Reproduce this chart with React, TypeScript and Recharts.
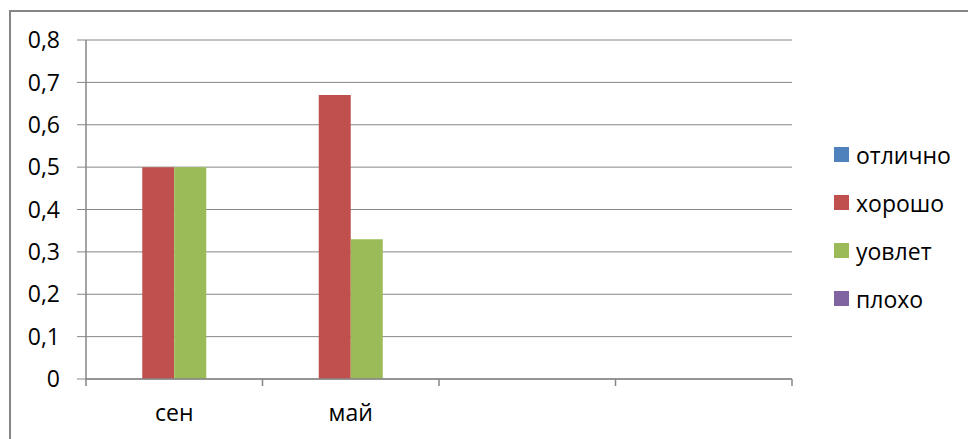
import React from "react";
import {
  BarChart,
  Bar,
  XAxis,
  YAxis,
  CartesianGrid,
  Legend,
} from "recharts";

const categories = ["сен", "май", "", ""];
const seriesNames = ["отлично", "хорошо", "уовлет", "плохо"];
const seriesColors = ["#4F81BD", "#C0504D", "#9BBB59", "#8064A2"];
const otlichno = [0, 0, null, null];
const horosho = [0.5, 0.67, null, null];
const uovlet = [0.5, 0.33, null, null];
const ploho = [0, 0, null, null];
const yTicks = [0, 0.1, 0.2, 0.3, 0.4, 0.5, 0.6, 0.7, 0.8];

const seriesValues = [otlichno, horosho, uovlet, ploho];

const data = categories.map((cat, i) => {
  const row: Record<string, string | number | null> = { cat };
  seriesNames.forEach((name, s) => {
    row[name] = seriesValues[s][i];
  });
  return row;
});

const FONT = "'Open Sans', sans-serif";
const AXIS_GRAY = "#868686";

function CategoryTick(props: any) {
  const { x, y, payload, index, visibleTicksCount } = props;
  const half = payload?.offset ?? 88.25;
  const isLast = index === (visibleTicksCount ?? categories.length) - 1;
  return (
    <g>
      <line x1={x - half} y1={y} x2={x - half} y2={y + 7} stroke={AXIS_GRAY} strokeWidth={1.5} />
      {isLast && (
        <line x1={x + half} y1={y} x2={x + half} y2={y + 7} stroke={AXIS_GRAY} strokeWidth={1.5} />
      )}
      <text
        x={x}
        y={y + 42}
        textAnchor="middle"
        fill="#000"
        style={{ fontFamily: FONT, fontSize: 23 }}
      >
        {payload.value}
      </text>
    </g>
  );
}

function LegendContent() {
  return (
    <div style={{ fontFamily: FONT, fontSize: 23, color: "#000" }}>
      {seriesNames.map((name, i) => (
        <div
          key={name}
          style={{ height: 48, display: "flex", alignItems: "center" }}
        >
          <span
            style={{
              display: "inline-block",
              width: 15,
              height: 15,
              background: seriesColors[i],
              marginRight: 7,
            }}
          />
          <span>{name}</span>
        </div>
      ))}
    </div>
  );
}

export default function App() {
  return (
    <div
      style={{
        position: "absolute",
        left: 0,
        top: 0,
        width: 968,
        height: 439,
        overflow: "hidden",
        background: "#fff",
      }}
    >
      <div
        style={{
          position: "absolute",
          left: 9,
          top: 10,
          width: 980,
          height: 460,
          border: `2px solid ${AXIS_GRAY}`,
          boxSizing: "border-box",
        }}
      />
      <BarChart
        width={968}
        height={439}
        data={data}
        margin={{ top: 40, right: 176, bottom: 20, left: 0 }}
        barCategoryGap="13.74%"
        barGap={0}
        style={{ position: "absolute", left: 0, top: 0 }}
      >
        <CartesianGrid vertical={false} stroke={AXIS_GRAY} strokeWidth={1} />
        <XAxis
          dataKey="cat"
          interval={0}
          height={40}
          tickLine={false}
          tickSize={0}
          tickMargin={0}
          axisLine={{ stroke: AXIS_GRAY, strokeWidth: 1.5 }}
          tick={<CategoryTick />}
        />
        <YAxis
          width={86}
          domain={[0, 0.8]}
          ticks={yTicks}
          interval={0}
          tickSize={9}
          tickMargin={17}
          axisLine={{ stroke: AXIS_GRAY, strokeWidth: 1.5 }}
          tickLine={{ stroke: AXIS_GRAY, strokeWidth: 1 }}
          tickFormatter={(v: number) => String(v).replace(".", ",")}
          tick={{ fill: "#000", fontFamily: FONT, fontSize: 23 }}
        />
        <Legend
          layout="vertical"
          align="center"
          verticalAlign="middle"
          content={<LegendContent />}
          wrapperStyle={{ left: 834, top: 130.5, width: 134, height: 192 }}
        />
        {seriesNames.map((name, i) => (
          <Bar
            key={name}
            dataKey={name}
            fill={seriesColors[i]}
            isAnimationActive={false}
          />
        ))}
      </BarChart>
    </div>
  );
}
